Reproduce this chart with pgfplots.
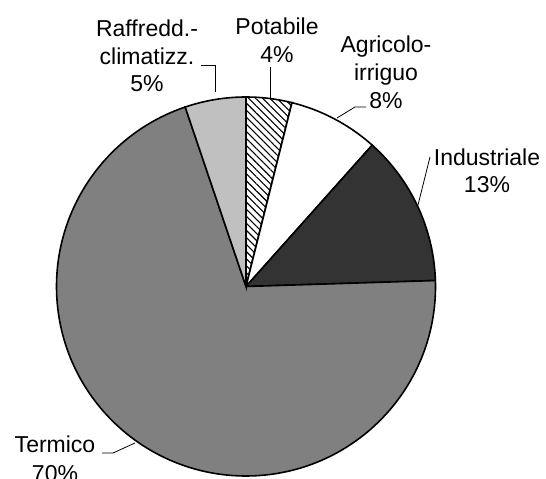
\documentclass[border=0pt]{standalone}
\usepackage{pgfplots}
\pgfplotsset{compat=1.18}
\usepackage{fontspec}
\setmainfont{Liberation Sans}
\usetikzlibrary{patterns.meta}
\definecolor{agricolo}{HTML}{FFFFFF}
\definecolor{industriale}{HTML}{333333}
\definecolor{termico}{HTML}{808080}
\definecolor{raffredd}{HTML}{C0C0C0}

% shares in % (clockwise from the top): Potabile, Agricolo-irriguo, Industriale, Termico, Raffredd.-climatizz.
% 3.9, 7.7, 12.9, 70.3, 5.2
\newcommand{\R}{189.5pt}
\newcommand{\lf}{\fontsize{23}{27}\selectfont}

\begin{document}
\begin{tikzpicture}
\begin{axis}[
    x=1pt, y=1pt,
    xmin=0, xmax=546,
    ymin=0, ymax=479,
    hide axis,
    clip=false,
]
% slices
\filldraw[line width=1.6pt, fill=white, postaction={pattern={Lines[angle=-45,distance=5pt,line width=1.1pt]}}]
  (246,192.5) -- ++(90:\R) arc[start angle=90, delta angle={-3.6*3.9}, radius=\R] -- cycle;
\filldraw[line width=1.6pt, fill=agricolo]
  (246,192.5) -- ++({90-3.6*3.9}:\R) arc[start angle={90-3.6*3.9}, delta angle={-3.6*7.7}, radius=\R] -- cycle;
\filldraw[line width=1.6pt, fill=industriale]
  (246,192.5) -- ++({90-3.6*11.6}:\R) arc[start angle={90-3.6*11.6}, delta angle={-3.6*12.9}, radius=\R] -- cycle;
\filldraw[line width=1.6pt, fill=termico]
  (246,192.5) -- ++({90-3.6*24.5}:\R) arc[start angle={90-3.6*24.5}, delta angle={-3.6*70.3}, radius=\R] -- cycle;
\filldraw[line width=1.6pt, fill=raffredd]
  (246,192.5) -- ++({90-3.6*94.8}:\R) arc[start angle={90-3.6*94.8}, delta angle={-3.6*5.2}, radius=\R] -- cycle;

% leader lines
\draw[line width=0.8pt] (270,412) -- (270,381);
\draw[line width=0.8pt] (337,361) -- (355,372) -- (366,372);
\draw[line width=0.8pt] (418,274) -- (430,322);
\draw[line width=0.8pt] (102,26) -- (113,26) -- (135,36);
\draw[line width=0.8pt] (215,387) -- (215,414) -- (201,414);

% labels
\node[anchor=base, inner sep=0pt] at (277,444) {\lf Potabile};
\node[anchor=base, inner sep=0pt] at (277,416) {\lf 4\%};
\node[anchor=base, inner sep=0pt] at (386,426) {\lf Agricolo-};
\node[anchor=base, inner sep=0pt] at (386,398) {\lf irriguo};
\node[anchor=base, inner sep=0pt] at (386,370) {\lf 8\%};
\node[anchor=base, inner sep=0pt] at (487,313) {\lf Industriale};
\node[anchor=base, inner sep=0pt] at (487,286) {\lf 13\%};
\node[anchor=base, inner sep=0pt] at (55,26) {\lf Termico};
\node[anchor=base, inner sep=0pt] at (55,-2) {\lf 70\%};
\node[anchor=base, inner sep=0pt] at (147,442) {\lf Raffredd.-};
\node[anchor=base, inner sep=0pt] at (147,414) {\lf climatizz.};
\node[anchor=base, inner sep=0pt] at (147,387) {\lf 5\%};
\end{axis}
\pgfresetboundingbox
\path (0,0) rectangle (546pt,479pt);
\end{tikzpicture}
\end{document}
